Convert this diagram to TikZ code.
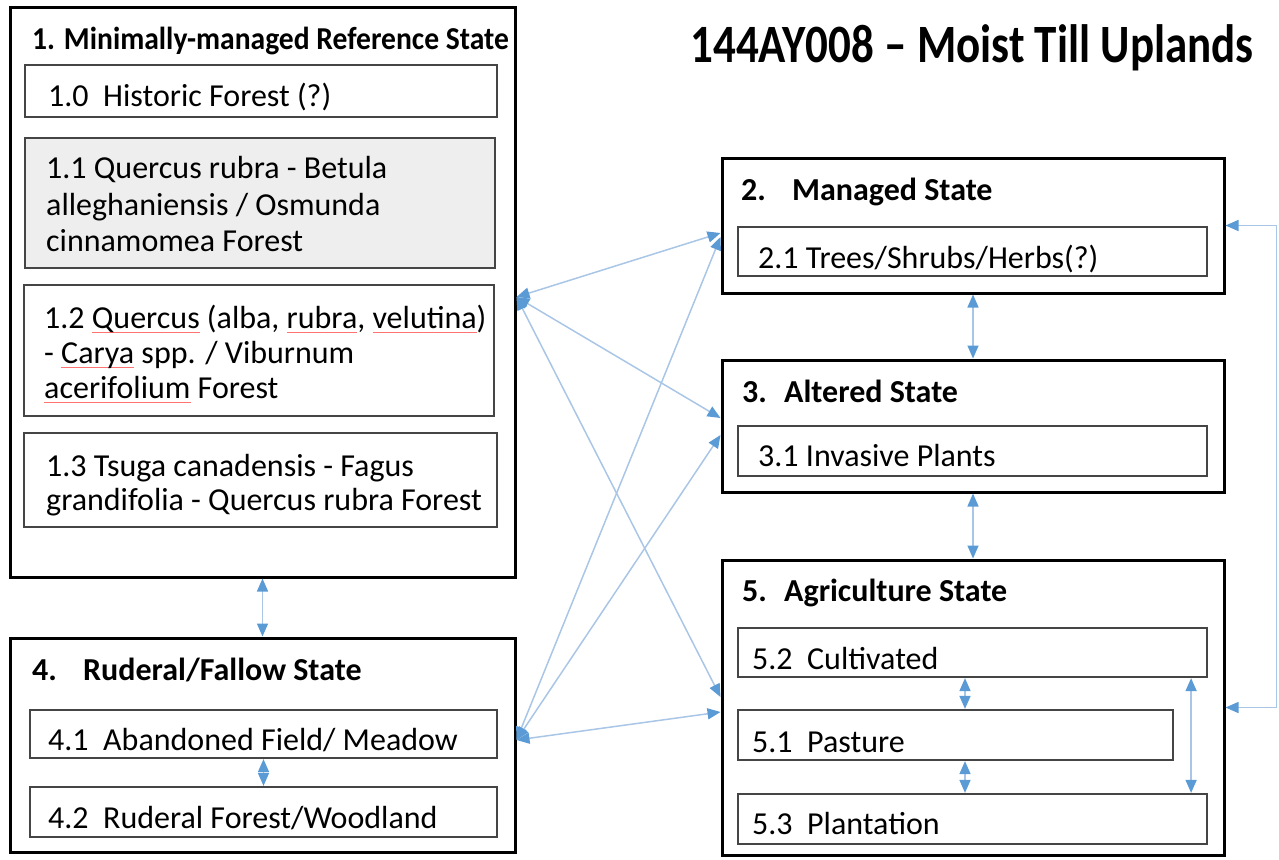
\documentclass[tikz,border=0pt]{standalone}
\usepackage{fontspec}
\setmainfont{Carlito}
\usepackage{graphicx}
\usetikzlibrary{fit,arrows.meta}
\definecolor{arrowblue}{HTML}{5B9BD5}
\definecolor{linkblue}{HTML}{A9C6E6}
\definecolor{innerline}{HTML}{454545}
\definecolor{fillgray}{HTML}{EEEEEE}
\newsavebox\spellbox
\newcommand\spellmark[1]{\sbox\spellbox{#1}\rlap{\textcolor{red!55}{\rule[-5pt]{\wd\spellbox}{1pt}}}\usebox\spellbox}
\begin{document}
\begin{tikzpicture}[x=1pt,y=-1pt,
  outbox/.style={draw=black, line width=3pt, inner sep=0pt},
  inbox/.style={draw=innerline, line width=2.2pt, inner sep=0pt},
  txt/.style={anchor=base west, inner sep=0pt, font=\fontsize{32}{36}\selectfont},
  hd/.style={anchor=base west, inner sep=0pt, font=\bfseries\fontsize{32}{36}\selectfont},
  bi/.style={draw=linkblue, line width=1.5pt,
    {Triangle[length=13pt,width=11pt,color=arrowblue]}-{Triangle[length=13pt,width=11pt,color=arrowblue]}}
]
\useasboundingbox (0,0) rectangle (1279,859);

% main title
\node[anchor=base, inner sep=0pt, font=\bfseries\fontsize{45}{50}\selectfont] (title) at (972,63)
  {\scalebox{1}[1.2]{144AY008 – Moist Till Uplands}};

% state 1
\node[outbox, fit={(10,8) (515,577)}] (s1) {};
\node[anchor=base west, inner sep=0pt, font=\bfseries\fontsize{29}{34}\selectfont] (h1) at (32,50) {\scalebox{1.02}[1.1]{1. Minimally-managed Reference State}};
\node[inbox, fit={(25,65) (497,117)}] (b10) {};
\node[txt] (t10) at (48,106) {1.0\ \ Historic Forest (?)};
\node[inbox, fill=fillgray, fit={(25,138) (495,268)}] (b11) {};
\node[txt] (t11a) at (46,178) {1.1 Quercus rubra - Betula};
\node[txt] (t11b) at (46,215) {alleghaniensis / Osmunda};
\node[txt] (t11c) at (46,251) {cinnamomea Forest};
\node[inbox, fit={(24,285) (494,416)}] (b12) {};
\node[txt] (t12a) at (44,328) {1.2 \spellmark{Quercus} (alba, \spellmark{rubra}, \spellmark{velutina})};
\node[txt] (t12b) at (44,363) {- \spellmark{Carya} spp. / Viburnum};
\node[txt] (t12c) at (44,398) {\spellmark{acerifolium} Forest};
\node[inbox, fit={(24,433) (497,527)}] (b13) {};
\node[txt] (t13a) at (46,476) {1.3 Tsuga canadensis - Fagus};
\node[txt] (t13b) at (46,510) {grandifolia - Quercus rubra Forest};

% state 4
\node[outbox, fit={(10,638) (515,852)}] (s4) {};
\node[hd] (h4) at (32,680) {\makebox[51pt][l]{4.}Ruderal/Fallow State};
\node[inbox, fit={(30,710) (497,758)}] (b41) {};
\node[txt] (t41) at (48,750) {4.1\ \ Abandoned Field/ Meadow};
\node[inbox, fit={(30,787) (497,837)}] (b42) {};
\node[txt] (t42) at (48,828) {4.2\ \ Ruderal Forest/Woodland};

% state 2
\node[outbox, fit={(722,158) (1224,293)}] (s2) {};
\node[hd] (h2) at (741,200) {\makebox[51pt][l]{2.}Managed State};
\node[inbox, fit={(738,227) (1207,276)}] (b21) {};
\node[txt] (t21) at (758,268) {2.1 Trees/Shrubs/Herbs(?)};

% state 3
\node[outbox, fit={(722,360) (1224,492)}] (s3) {};
\node[hd] (h3) at (742,402) {\makebox[42pt][l]{3.}Altered State};
\node[inbox, fit={(738,426) (1207,476)}] (b31) {};
\node[txt] (t31) at (758,466) {3.1 Invasive Plants};

% state 5
\node[outbox, fit={(722,560) (1224,855)}] (s5) {};
\node[hd] (h5) at (742,601) {\makebox[42pt][l]{5.}Agriculture State};
\node[inbox, fit={(738,628) (1207,677)}] (b52) {};
\node[txt] (t52) at (752,669) {5.2\ \ Cultivated};
\node[inbox, fit={(738,710) (1173,760)}] (b51) {};
\node[txt] (t51) at (752,752) {5.1\ \ Pasture};
\node[inbox, fit={(738,794) (1207,844)}] (b53) {};
\node[txt] (t53) at (752,834) {5.3\ \ Plantation};

% vertical connectors
\draw[bi] (s1.south) -- (s4.north);
\draw[bi] (b41.south) -- (b42.north);
\draw[bi] (s2.south) -- (s3.north);
\draw[bi] (s3.south) -- (s5.north);
\draw[bi] ([xshift=-7.5pt]b52.south) -- ([xshift=-7.5pt]b52.south |- b51.north);
\draw[bi] ([xshift=-7.5pt]b52.south |- b51.south) -- ([xshift=-7.5pt]b52.south |- b53.north);
\draw[bi] ([xshift=-17pt]b52.south east) -- ([xshift=-17pt]b52.south east |- b53.north);
\draw[bi] (s5.east) -- ++(51,0) |- (s2.east);

% diagonal connectors
\coordinate (A) at ([yshift=-4.5pt]s1.east);
\coordinate (B) at ([yshift=5pt]s4.east);
\draw[bi] (A) -- ([yshift=-7.5pt]s2.west);
\draw[bi] (A) -- ([yshift=8pt]s3.west);
\draw[bi] (A) -- ([yshift=10.5pt]s5.west);
\draw[bi] (B) -- ([yshift=-11.5pt]s2.west);
\draw[bi] (B) -- ([yshift=-9pt]s3.west);
\draw[bi] (B) -- ([yshift=-4.5pt]s5.west);
\end{tikzpicture}
\end{document}
